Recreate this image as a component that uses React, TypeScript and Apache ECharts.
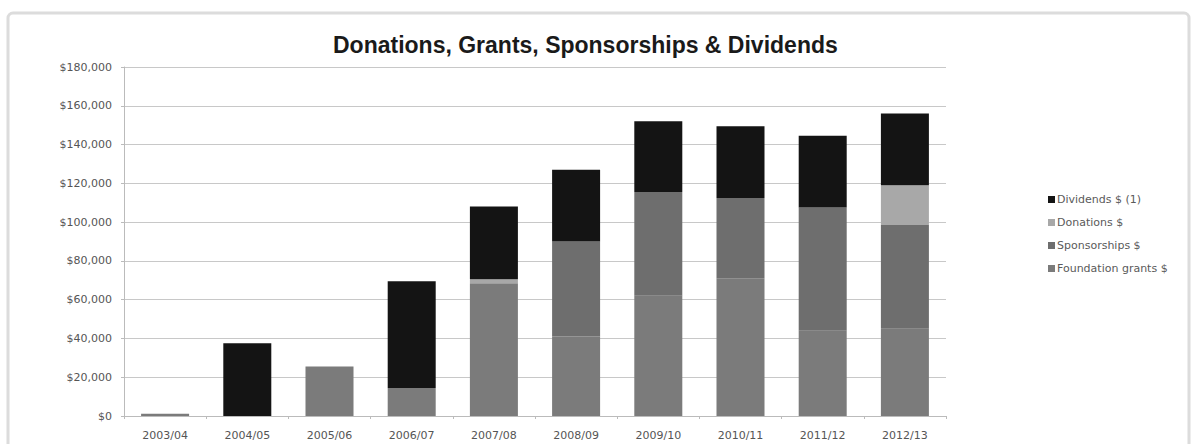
import React, { useEffect, useRef } from "react";
import * as echarts from "echarts";

const categories = ["2003/04", "2004/05", "2005/06", "2006/07", "2007/08", "2008/09", "2009/10", "2010/11", "2011/12", "2012/13"];
const foundationGrants = [1200, 0, 25500, 14500, 68500, 41000, 62000, 71000, 44000, 45000];
const sponsorships = [0, 0, 0, 0, 0, 49000, 53500, 41500, 63500, 53500];
const donations = [0, 0, 0, 0, 2000, 0, 0, 0, 0, 20500];
const dividends = [0, 37500, 0, 55000, 37500, 37000, 36500, 37000, 37000, 37000];
const yTicks = [0, 20000, 40000, 60000, 80000, 100000, 120000, 140000, 160000, 180000];

const FONT = "'Liberation Sans', Arial, sans-serif";
const SMALL = "'DejaVu Sans', sans-serif";

export default function App() {
  const ref = useRef<HTMLDivElement>(null);
  useEffect(() => {
    document.body.style.margin = "0";
    const chart = echarts.init(ref.current!, null, { renderer: "svg" });
    const mk = (name: string, data: number[], color: string) => ({
      name,
      type: "bar",
      stack: "total",
      data,
      barWidth: 48,
      itemStyle: { color },
      emphasis: { disabled: true },
    });
    chart.setOption({
      animation: false,
      backgroundColor: "#ffffff",
      textStyle: { fontFamily: FONT },
      graphic: [
        {
          type: "rect",
          shape: { x: 8, y: 13, width: 1181, height: 445, r: 5 },
          style: { fill: "none", stroke: "#dcdcdc", lineWidth: 3 },
          silent: true,
        },
      ],
      title: {
        text: "Donations, Grants, Sponsorships & Dividends",
        left: 328,
        top: 28,
        textStyle: { fontFamily: FONT, fontSize: 23, fontWeight: "bold", color: "#1a1a1a" },
      },
      legend: {
        orient: "vertical",
        left: 1043,
        top: 189,
        itemWidth: 7,
        itemHeight: 7,
        itemGap: 12,
        icon: "rect",
        data: ["Dividends $ (1)", "Donations $", "Sponsorships $", "Foundation grants $"],
        textStyle: { fontFamily: SMALL, fontSize: 11, color: "#5a5a5a", padding: [0, 0, 0, -3] },
      },
      grid: { left: 124, right: 250, top: 67, bottom: 28, containLabel: false },
      xAxis: {
        type: "category",
        data: categories,
        axisLine: { lineStyle: { color: "#bbbbbb" } },
        axisTick: { show: true, alignWithLabel: false, length: 3, lineStyle: { color: "#bbbbbb" } },
        axisLabel: { fontFamily: SMALL, fontSize: 11, color: "#555", margin: 14 },
      },
      yAxis: {
        type: "value",
        min: 0,
        max: 180000,
        interval: 20000,
        axisLine: { show: true, lineStyle: { color: "#bbbbbb" } },
        axisTick: { show: true, length: 3, lineStyle: { color: "#bbbbbb" } },
        splitLine: { lineStyle: { color: "#c8c8c8", width: 1 } },
        axisLabel: {
          fontFamily: SMALL,
          fontSize: 11,
          color: "#555",
          margin: 12,
          formatter: (v: number) => (yTicks.includes(v) ? "$" + v.toLocaleString("en-US") : ""),
        },
      },
      series: [
        mk("Foundation grants $", foundationGrants, "#7b7b7b"),
        mk("Sponsorships $", sponsorships, "#6e6e6e"),
        mk("Donations $", donations, "#a8a8a8"),
        mk("Dividends $ (1)", dividends, "#141414"),
      ],
    });
    return () => chart.dispose();
  }, []);
  return <div ref={ref} style={{ width: 1196, height: 444 }} />;
}
